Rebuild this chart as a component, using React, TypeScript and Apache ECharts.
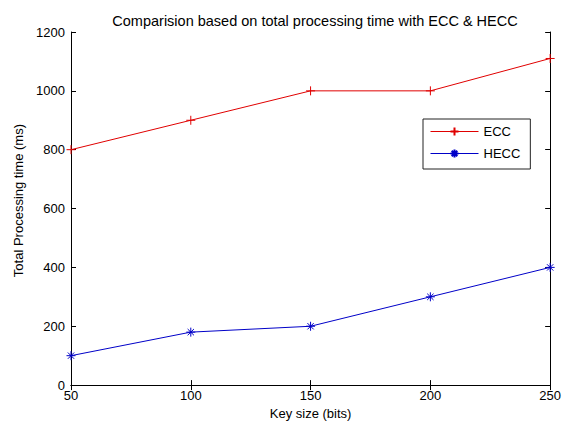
import React, { useEffect, useRef } from "react";
import * as echarts from "echarts";

const keySizes = [50, 100, 150, 200, 250];
const eccValues = [800, 900, 1000, 1000, 1110];
const heccValues = [100, 180, 200, 300, 400];
const yTicks = [0, 200, 400, 600, 800, 1000, 1200];

const PLUS = "path://M0,-5L0,5M-5,0L5,0";
const STAR = "path://M0,-5L0,5M-5,0L5,0M-3.5,-3.5L3.5,3.5M-3.5,3.5L3.5,-3.5";

export default function App() {
  const ref = useRef<HTMLDivElement>(null);
  useEffect(() => {
    document.body.style.margin = "0";
    if (!ref.current) return;
    const chart = echarts.init(ref.current, null, { renderer: "svg" });
    const font = "Liberation Sans, Arial, sans-serif";
    const baseAxis = {
      type: "value" as const,
      axisLine: { show: true, lineStyle: { color: "#000", width: 1 } },
      axisTick: { show: true, inside: true, length: 5, lineStyle: { color: "#000" } },
      splitLine: { show: false },
    };
    chart.setOption({
      animation: false,
      backgroundColor: "#fff",
      textStyle: { fontFamily: font },
      title: {
        text: "Comparision based on total processing time with ECC & HECC",
        left: 310,
        textAlign: "center",
        top: 8,
        textStyle: { fontSize: 14.5, fontWeight: "normal", color: "#000", fontFamily: font },
      },
      grid: { left: 71, right: 12, top: 32, bottom: 37 },
      legend: {
        orient: "vertical",
        left: 423,
        top: 119,
        padding: [6, 10, 9, 7],
        borderColor: "#222",
        borderWidth: 1,
        backgroundColor: "#fff",
        itemWidth: 48,
        itemHeight: 10,
        itemGap: 9,
        lineStyle: { width: 1 },
        textStyle: { fontSize: 13, color: "#000", fontFamily: font },
        data: ["ECC", "HECC"],
      },
      xAxis: [
        {
          ...baseAxis,
          min: 50,
          max: 250,
          interval: 50,
          name: "Key size (bits)",
          nameLocation: "middle",
          nameGap: 20,
          nameTextStyle: { fontSize: 13, color: "#000", fontFamily: font },
          axisLabel: { fontSize: 13, color: "#000", margin: 4, fontFamily: font },
        },
        {
          ...baseAxis,
          position: "top",
          min: 50,
          max: 250,
          interval: 50,
          axisLabel: { show: false },
        },
      ],
      yAxis: [
        {
          ...baseAxis,
          min: 0,
          max: 1200,
          interval: 200,
          name: "Total Processing time (ms)",
          nameLocation: "middle",
          nameGap: 44,
          nameTextStyle: { fontSize: 13, color: "#000", fontFamily: font, padding: [0, 0, 0, 16] },
          axisLabel: {
            fontSize: 13,
            color: "#000",
            margin: 6,
            fontFamily: font,
            formatter: (v: number) => (yTicks.includes(v) ? String(v) : ""),
          },
        },
        {
          ...baseAxis,
          position: "right",
          min: 0,
          max: 1200,
          interval: 200,
          axisLabel: { show: false },
        },
      ],
      series: [
        {
          name: "ECC",
          type: "line",
          data: keySizes.map((k, i) => [k, eccValues[i]]),
          symbol: PLUS,
          symbolSize: 9,
          showSymbol: true,
          lineStyle: { color: "#e00000", width: 1 },
          itemStyle: { color: "none", borderColor: "#e00000", borderWidth: 1 },
          emphasis: { disabled: true },
        },
        {
          name: "HECC",
          type: "line",
          data: keySizes.map((k, i) => [k, heccValues[i]]),
          symbol: STAR,
          symbolSize: 9,
          showSymbol: true,
          lineStyle: { color: "#0000c8", width: 1 },
          itemStyle: { color: "none", borderColor: "#0000c8", borderWidth: 1 },
          emphasis: { disabled: true },
        },
      ],
    });
    return () => chart.dispose();
  }, []);
  return <div ref={ref} style={{ width: 564, height: 425 }} />;
}
